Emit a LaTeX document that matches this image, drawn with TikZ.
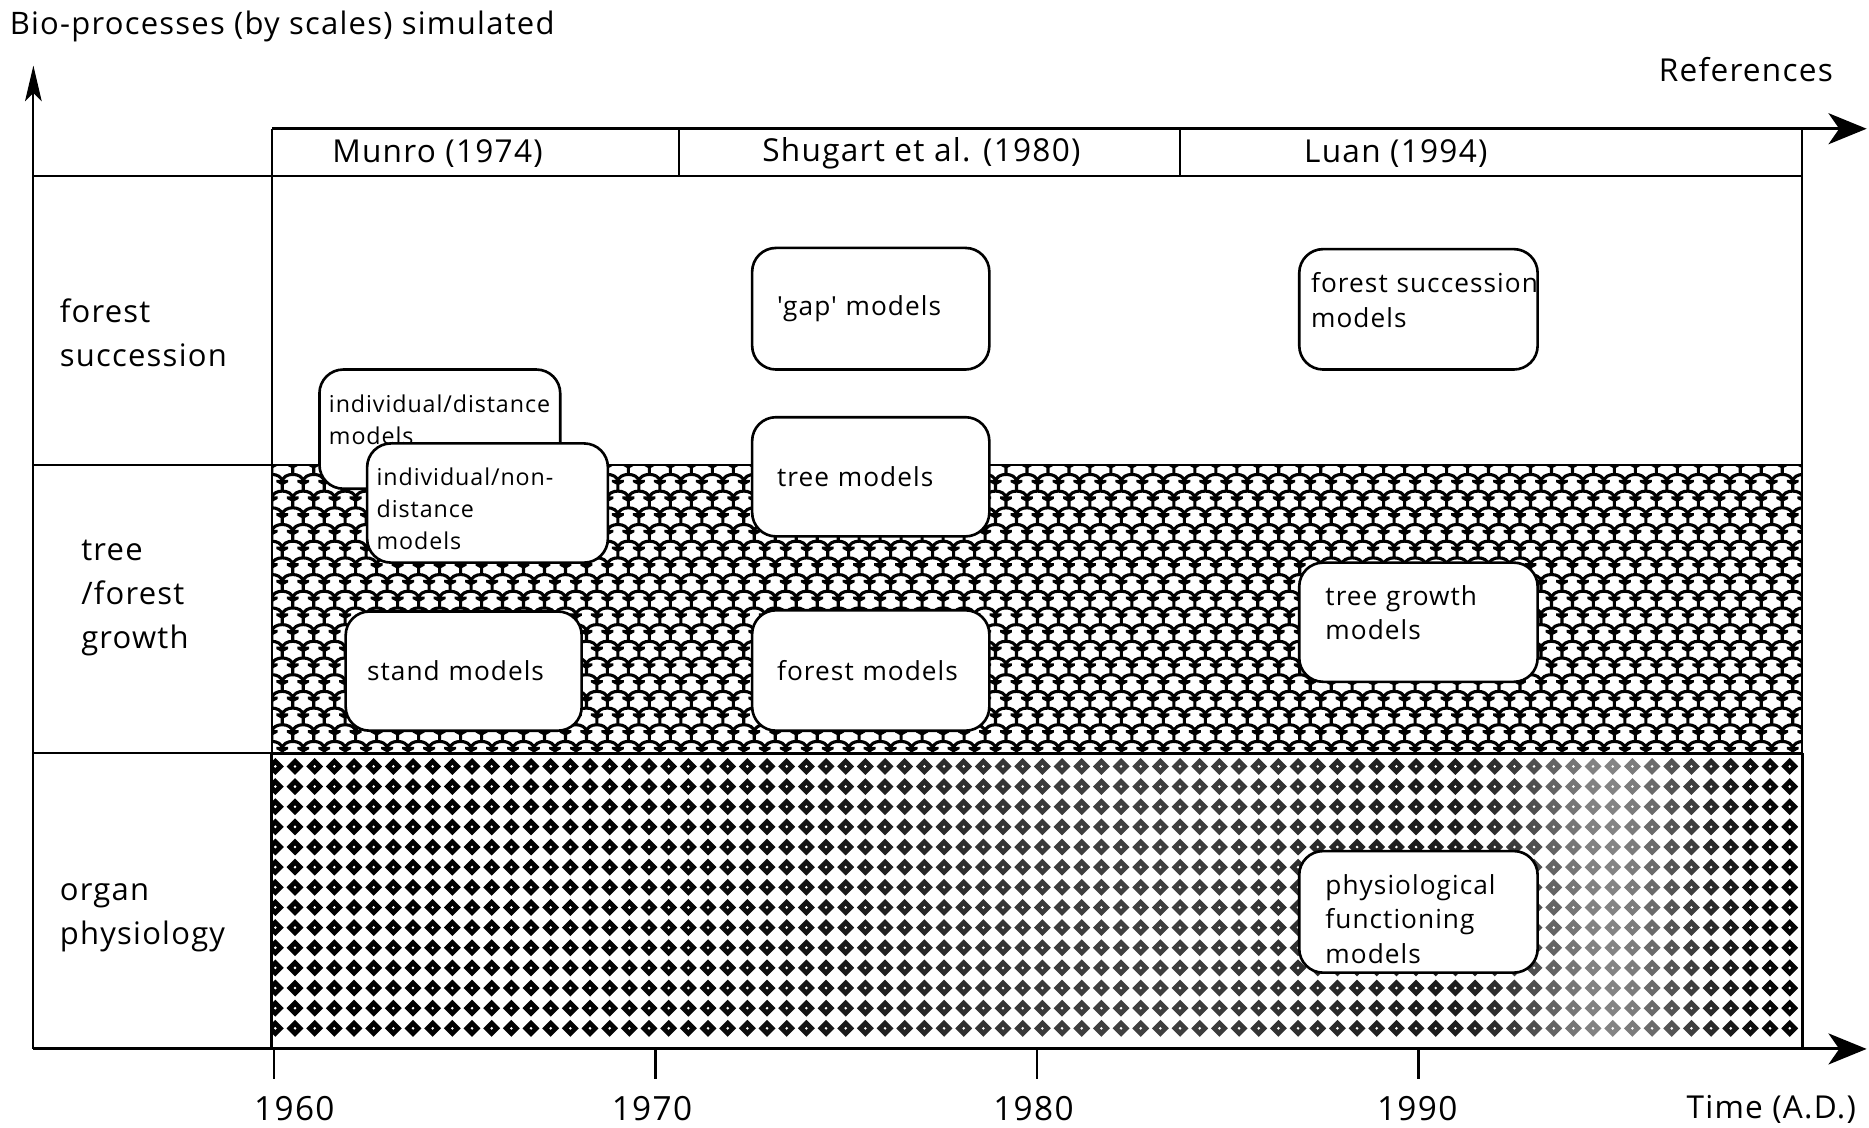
\documentclass[tikz,border=0pt]{standalone}
\usepackage{fontspec}
\setmainfont{Open Sans}[LetterSpace=4,Ligatures=TeXOff]
\usetikzlibrary{arrows.meta}
\newcommand\titlesize{\fontsize{26}{30}\selectfont}
\newcommand\headsize{\fontsize{26.5}{30}\selectfont}
\newcommand\rowsize{\fontsize{26}{37}\selectfont}
\newcommand\yearsize{\fontsize{28}{32}\selectfont}
\newcommand\mboxsize{\fontsize{22}{29}\selectfont\hyphenpenalty=10000 }
\newcommand\smallboxsize{\fontsize{19.5}{27}\selectfont\hyphenpenalty=10000 }
\begin{document}
\begin{tikzpicture}[x=1pt,y=-1pt,
  frameline/.style={line width=1.6pt},
  heavyline/.style={line width=2.8pt},
  xaxis/.style={line width=2.6pt,-{Stealth[length=32pt,width=26pt,inset=9pt]}},
  yaxis/.style={line width=1.8pt,-{Stealth[length=30pt,width=14pt,inset=7pt]}},
  scaleline/.style={line width=2.6pt},
  label/.style={inner sep=0pt,align=left},
  modelbox/.style 2 args={draw,fill=white,line width=2.2pt,rounded corners=20pt,
    minimum height=100pt,inner ysep=0pt,inner xsep=#2,text width=#1,align=left,font=\mboxsize},
]
\useasboundingbox (0,0) rectangle (1568,946);

% fish-scale band: tree / forest growth
\begin{scope}
  \clip (228,390) rectangle (1512,632);
  \foreach \r in {0,...,18} {
    \pgfmathsetmacro\yy{390+\r*14}
    \pgfmathsetmacro\off{mod(\r,2)*8.8}
    \foreach \c in {-1,...,74} {
      \pgfmathsetmacro\xa{228+\c*17.6+\off}
      \draw[scaleline] (\xa,\yy) .. controls (\xa+0.5,\yy-8) and (\xa+17.1,\yy-8) .. (\xa+17.6,\yy);
      \fill (\xa-5,\yy-1.5) -- (\xa+5,\yy-1.5) -- (\xa+5,\yy+0.5) -- (\xa+1.3,\yy+2.5) -- (\xa+1.3,\yy+8.5)
            -- (\xa-1.3,\yy+8.5) -- (\xa-1.3,\yy+2.5) -- (\xa-5,\yy+0.5) -- cycle;
    }
  }
\end{scope}

% diamond band: organ physiology
\begin{scope}
  \clip (228,632) rectangle (1512,880);
  \foreach \c in {0,...,78} {
    \pgfmathsetmacro\xx{231+\c*16.5}
    \pgfmathsetmacro\dk{100-25*exp(-min(((\xx-950)/250)^2,9))-50*exp(-min(((\xx-1350)/80)^2,9))}
    \foreach \r in {0,...,13} {
      \pgfmathsetmacro\yy{643+\r*16.9}
      \fill[black!\dk] (\xx-7.1,\yy) -- (\xx,\yy-7.1) -- (\xx+7.1,\yy) -- (\xx,\yy+7.1) -- cycle;
      \fill[white] (\xx,\yy) circle (1.2);
    }
  }
\end{scope}

% grid of the chart
\draw[frameline] (28,148) -- (1512,148);
\draw[frameline] (28,390) -- (1512,390);
\draw[frameline] (28,632) -- (228,632);
\draw[heavyline] (228,632) -- (1512,632);
\draw[frameline] (228,108) -- (228,632);
\draw[heavyline] (228,632) -- (228,880);
\draw[frameline] (1512,108) -- (1512,632);
\draw[heavyline] (1512,632) -- (1512,880);
\draw[frameline] (570,108) -- (570,148);
\draw[frameline] (990,108) -- (990,148);

% axes
\coordinate (origin) at (28,880);
\coordinate (ytip) at (28,55);
\coordinate (xtip) at (1566,880);
\coordinate (refstart) at (228,108);
\coordinate (reftip) at (1566,108);
\draw[yaxis] (origin) -- (ytip);
\draw[xaxis] (origin) -- (xtip);
\draw[xaxis] (refstart) -- (reftip);

% year ticks
\foreach \x in {230,550,870,1190} \draw[line width=2pt] (\x,880) -- (\x,905);

% axis and header texts
\node[label,anchor=west,font=\titlesize] (ytitle) at (8,22) {Bio-processes (by scales) simulated};
\node[label,anchor=east,font=\headsize] (reftitle) at (1538,58) {References};
\node[label,font=\headsize] (munro) at (367,129) {Munro (1974)};
\node[label,font=\headsize] (shugart) at (773,129) {Shugart et al. (1980)};
\node[label,font=\headsize] (luan) at (1171,129) {Luan (1994)};
\node[label,font=\yearsize] (y1960) at (247,930) {1960};
\node[label,font=\yearsize] (y1970) at (547,930) {1970};
\node[label,font=\yearsize] (y1980) at (867,930) {1980};
\node[label,font=\yearsize] (y1990) at (1189,930) {1990};
\node[label,font=\headsize] (xtitle) at (1486,931) {Time (A.D.)};

% row labels
\node[label,anchor=west,font=\rowsize] (rowsucc) at (50,279) {forest\\succession};
\node[label,anchor=west,font=\rowsize] (rowgrowth) at (68,502) {tree\\/forest\\growth};
\node[label,anchor=west,font=\rowsize] (rowphys) at (50,770) {organ\\physiology};

% model boxes (text depth shifts the text block inside its box)
\node[modelbox={186pt}{8pt},font=\smallboxsize,text depth=43pt] (idist) at (369,360) {individual/distance\\models};
\node[modelbox={186pt}{8pt},font=\smallboxsize,text depth=44pt] (inondist) at (409,422) {individual/non-\\distance\\models};
\node[modelbox={162pt}{18pt}] (stand) at (389,563) {stand models};
\node[modelbox={157pt}{21pt},minimum height=102pt] (gap) at (730.5,259) {'gap' models};
\node[modelbox={157pt}{21pt}] (tree) at (730.5,400) {tree models};
\node[modelbox={157pt}{21pt},minimum height=101pt] (forest) at (730.5,562.5) {forest models};
\node[modelbox={180pt}{10pt},minimum height=101pt,text depth=45pt] (fsucc) at (1190,259.5) {\mbox{forest succession}\\models};
\node[modelbox={156pt}{22pt},text depth=45pt] (tgrowth) at (1190,522) {tree growth\\models};
\node[modelbox={156pt}{22pt},minimum height=102pt,text depth=46pt] (physio) at (1190,765) {physiological\\functioning\\models};
\end{tikzpicture}
\end{document}
